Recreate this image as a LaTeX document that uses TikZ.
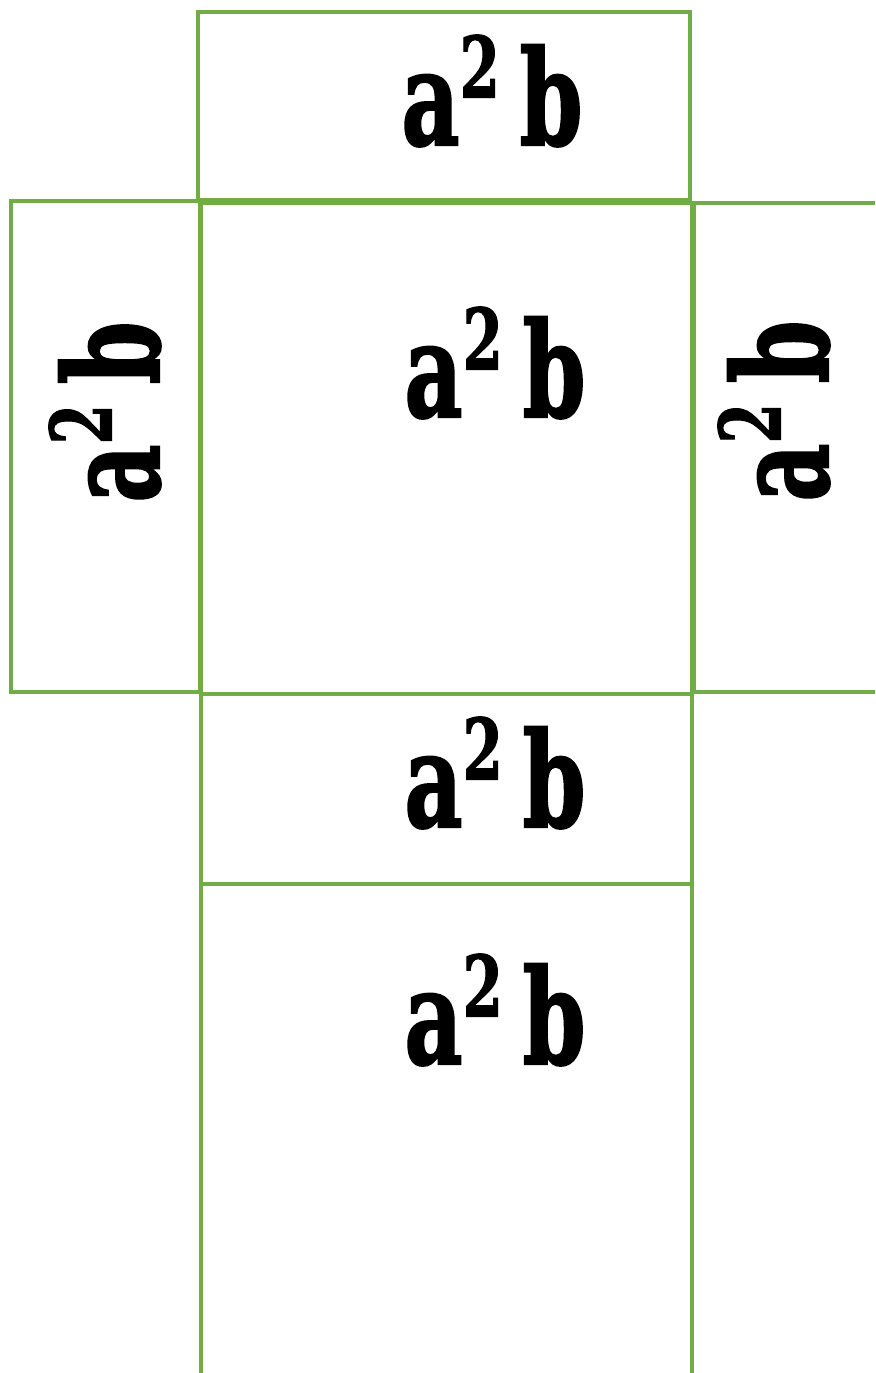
\documentclass[tikz,border=0pt]{standalone}
\usepackage{fontspec}
\usepackage{graphicx}
\newfontfamily\netfont{DejaVu Serif Condensed}[BoldFeatures={FakeBold=1.6}]
\definecolor{netgreen}{RGB}{112,173,71}
\newcommand{\asqb}{a\raisebox{0.36em}{\scalebox{0.64}{2}}\hspace{0.2em}b}

\begin{document}
\begin{tikzpicture}[x=0.5pt,y=-0.5pt,
  face/.style={netgreen, line width=1.7pt},
  lbl/.style={font=\netfont\bfseries\fontsize{50pt}{50pt}\selectfont, anchor=base, inner sep=0pt, yscale=1.32, transform shape}]
  \clip (0,0) rectangle (875,1373);
  % lid
  \draw[face] (198,12) rectangle (690,200);
  \node[lbl] (lidtext) at (492,145) {\asqb};
  % left side
  \draw[face] (11,201) rectangle (200,692);
  \node[rotate=90, lbl] (lefttext) at (159,412) {\asqb};
  % front face
  \draw[face] (201,203) rectangle (692,694);
  \node[lbl] (fronttext) at (495,417) {\asqb};
  % right side, runs off the page
  \draw[face] (890,203) -- (694,203) -- (694,692) -- (890,692);
  \node[rotate=90, lbl] (righttext) at (828,411) {\asqb};
  % bottom band
  \draw[face] (201,694) rectangle (692,884);
  \node[lbl] (bandtext) at (495,827) {\asqb};
  % base, open at the bottom
  \draw[face] (201,884) -- (201,1390);
  \draw[face] (692,884) -- (692,1390);
  \node[lbl] (basetext) at (495,1064) {\asqb};
\end{tikzpicture}
\end{document}
